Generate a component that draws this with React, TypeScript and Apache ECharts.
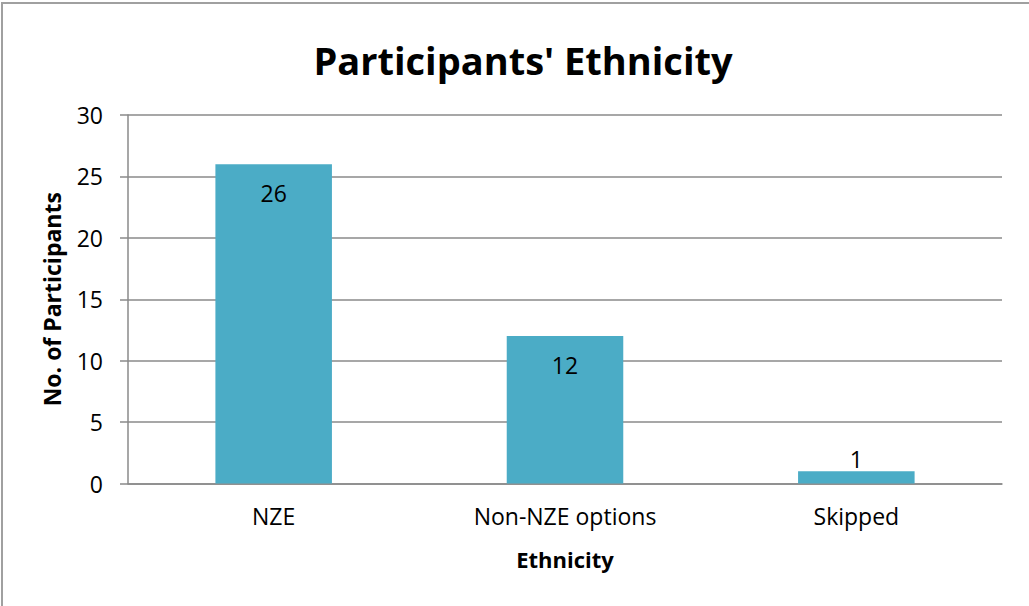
import React, { useEffect, useRef } from "react";
import * as echarts from "echarts";

const categories = ["NZE", "Non-NZE options", "Skipped"];
const values = [26, 12, 1];
const labelPositions = ["insideTop", "insideTop", "top"];
const yTicks = { min: 0, max: 30, interval: 5 };

const FONT = "'Open Sans', sans-serif";

export default function App() {
  const ref = useRef<HTMLDivElement>(null);
  useEffect(() => {
    if (!ref.current) return;
    const chart = echarts.init(ref.current, null, { renderer: "svg" });
    chart.setOption({
      animation: false,
      backgroundColor: "#ffffff",
      textStyle: { fontFamily: FONT },
      title: {
        text: "Participants' Ethnicity",
        left: 518,
        textAlign: "center",
        top: 36,
        textStyle: { fontFamily: FONT, fontWeight: "bold", fontSize: 38, color: "#000" },
      },
      graphic: [
        {
          type: "rect",
          shape: { x: 2, y: 3, width: 1060, height: 640 },
          style: { fill: "none", stroke: "#a0a0a0", lineWidth: 2 },
          silent: true,
        },
      ],
      grid: { left: 128, right: 27, top: 115, bottom: 122.5 },
      xAxis: {
        type: "category",
        data: categories,
        name: "Ethnicity",
        nameLocation: "middle",
        nameGap: 64,
        nameTextStyle: { fontFamily: FONT, fontWeight: "bold", fontSize: 22, color: "#000" },
        axisLine: { show: true, lineStyle: { color: "#8a8a8a", width: 1.5 } },
        axisTick: { show: false },
        axisLabel: { fontFamily: FONT, fontSize: 23, color: "#000", margin: 21 },
      },
      yAxis: {
        type: "value",
        min: yTicks.min,
        max: yTicks.max,
        interval: yTicks.interval,
        name: "No. of Participants",
        nameLocation: "middle",
        nameGap: 65,
        nameTextStyle: { fontFamily: FONT, fontWeight: "bold", fontSize: 23, color: "#000" },
        axisLine: { show: true, lineStyle: { color: "#8a8a8a", width: 1.5 } },
        axisTick: { show: true, length: 8, lineStyle: { color: "#8a8a8a", width: 1.5 } },
        axisLabel: { fontFamily: FONT, fontSize: 23, color: "#000", margin: 25 },
        splitLine: { show: true, lineStyle: { color: "#8a8a8a", width: 1.5 } },
      },
      series: [
        {
          type: "bar",
          barWidth: "40%",
          data: values.map((v, i) => ({
            value: v,
            label: {
              show: true,
              position: labelPositions[i],
              distance: labelPositions[i] === "top" ? 1 : 17,
              fontFamily: FONT,
              fontSize: 23,
              color: "#000",
            },
          })),
          itemStyle: { color: "#4BACC6" },
        },
      ],
    });
    return () => chart.dispose();
  }, []);
  return (
    <div
      ref={ref}
      style={{ position: "fixed", left: 0, top: 0, width: 1029, height: 606 }}
    />
  );
}
